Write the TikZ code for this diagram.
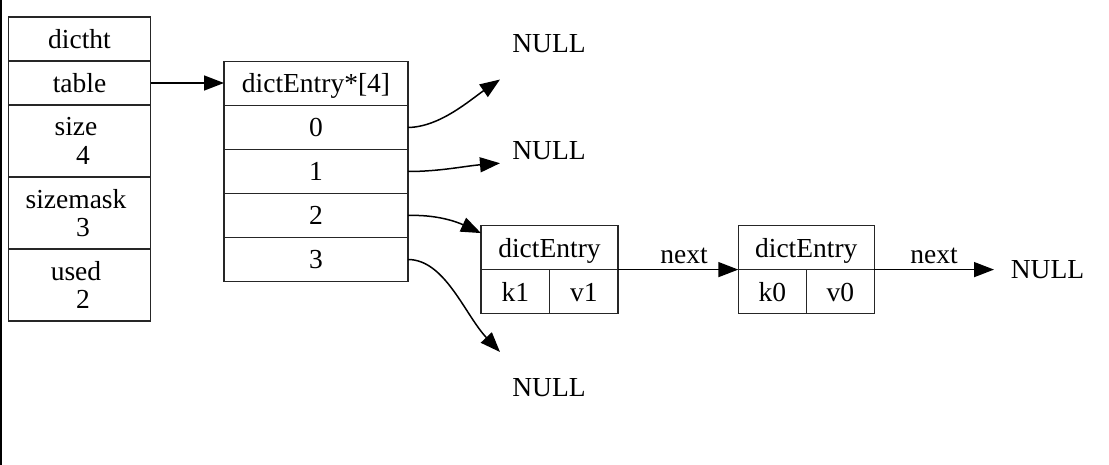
\documentclass[tikz,border=0pt]{standalone}
\usepackage{fontspec}
\setmainfont{Liberation Serif}
\usetikzlibrary{arrows.meta}
\begin{document}
\begin{tikzpicture}[x=1pt,y=1pt,
  txt/.style={font=\fontsize{27.5}{28.3}\selectfont},
  cell/.style={txt, draw=black!85, line width=1.5pt, inner sep=0pt, outer sep=0pt, align=center},
  one/.style={text height=19pt, text depth=0pt},
  nulltxt/.style={txt, inner sep=0pt, outer sep=0pt, minimum width=98pt, minimum height=72pt},
  link/.style={line width=1.5pt, -{Triangle[length=20pt,width=15pt]}},
  lbl/.style={txt, inner sep=0pt}
]
\useasboundingbox (0,0) rectangle (1109,-465);
\draw[line width=1.5pt] (0.75,0) -- (0.75,-465);

% dictht
\node[cell, one, minimum width=142pt, minimum height=44pt] (dictht) at (79.5,-39) {dictht};
\node[cell, one, minimum width=142pt, minimum height=44pt] (table) at (79.5,-83) {table};
\node[cell, minimum width=142pt, minimum height=72pt] (size) at (79.5,-141) {size\hspace*{7pt}\\\hspace*{7pt}4};
\node[cell, minimum width=142pt, minimum height=72pt] (sizemask) at (79.5,-213) {sizemask\hspace*{7pt}\\\hspace*{7pt}3};
\node[cell, minimum width=142pt, minimum height=72pt] (used) at (79.5,-285) {used\hspace*{7pt}\\\hspace*{7pt}2};

% array
\node[cell, one, minimum width=184pt, minimum height=44pt] (arrh) at (316,-83.5) {dictEntry*[4]};
\node[cell, one, minimum width=184pt, minimum height=44pt] (a0) at (316,-127.5) {0};
\node[cell, one, minimum width=184pt, minimum height=44pt] (a1) at (316,-171.5) {1};
\node[cell, one, minimum width=184pt, minimum height=44pt] (a2) at (316,-215.5) {2};
\node[cell, one, minimum width=184pt, minimum height=44pt] (a3) at (316,-259.5) {3};

% entry 1
\node[cell, one, minimum width=137pt, minimum height=44pt] (e1h) at (549.5,-247.6) {dictEntry};
\node[cell, one, minimum width=68.5pt, minimum height=44pt] (k1) at (515.25,-291.7) {k1};
\node[cell, one, minimum width=68.5pt, minimum height=44pt] (v1) at (583.75,-291.7) {v1};

% entry 0
\node[cell, one, minimum width=136pt, minimum height=44pt] (e0h) at (806.3,-247.6) {dictEntry};
\node[cell, one, minimum width=68pt, minimum height=44pt] (k0) at (772.3,-291.7) {k0};
\node[cell, one, minimum width=68pt, minimum height=44pt] (v0) at (840.3,-291.7) {v0};

% NULLs
\node[nulltxt] (n0) at (549,-43.5) {NULL};
\node[nulltxt] (n1) at (549,-151) {NULL};
\node[nulltxt] (n3) at (549,-388) {NULL};
\node[nulltxt, minimum width=107pt] (n4) at (1047.5,-269.6) {NULL};

% connectors
\draw[link] (table.east) -- (table.east -| arrh.west);
\draw[link] (a0.east) .. controls (440,-127) and (470,-100) .. (n0.south west);
\draw[link] (a1.east) .. controls (440,-171.5) and (465,-166) .. (n1.194);
\draw[link] (a2.east) .. controls (435,-214.5) and (455,-221) .. ([yshift=14.5pt]e1h.west);
\draw[link] (a3.east) .. controls (445,-259.5) and (465,-315) .. (n3.north west);
\draw[link] (e1h.south east) -- node[lbl, pos=0.55, above=5pt] {next} (e0h.south west);
\draw[link] (e0h.south east) -- node[lbl, midway, above=5pt] {next} (n4.west);
\end{tikzpicture}
\end{document}
